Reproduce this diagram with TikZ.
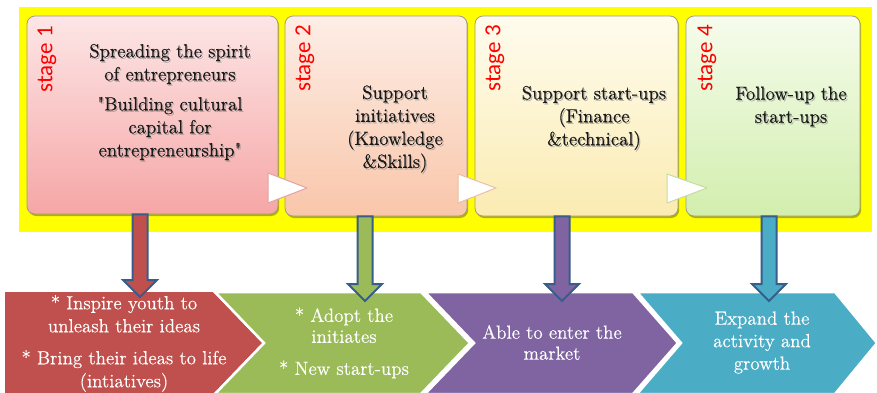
\documentclass[tikz,border=0pt]{standalone}
\usepackage{fontspec}
\setmainfont{lmroman12-regular}[Extension=.otf, Ligatures=TeXOff, FakeBold=0.35]
\newfontfamily\stagefont{Carlito}
\usetikzlibrary{calc,shadows}
\definecolor{ybg}{HTML}{FFFF00}
\definecolor{boxline}{HTML}{A39B84}
\definecolor{b1t}{HTML}{FDE6E6}
\definecolor{b1b}{HTML}{F6A6A6}
\definecolor{b2t}{HTML}{FDEEE6}
\definecolor{b2b}{HTML}{F9C6AA}
\definecolor{b3t}{HTML}{FEFCEE}
\definecolor{b3b}{HTML}{FBEBB2}
\definecolor{b4t}{HTML}{F6FCEC}
\definecolor{b4b}{HTML}{D2EEAE}
\definecolor{cred}{HTML}{C0504D}
\definecolor{cgreen}{HTML}{9BBB59}
\definecolor{cpurple}{HTML}{8064A2}
\definecolor{ccyan}{HTML}{4BACC6}
\definecolor{arrowblue}{HTML}{385D8A}
\definecolor{tri1}{HTML}{E3A3A3}
\definecolor{tri2}{HTML}{E9C0A4}
\definecolor{tri3}{HTML}{C6DCA2}
\newcommand\shtxt[4]{%
  \node[#3, text=black!50, opacity=0.45] (#1sh) at ($(#2)+(1.3,1.5)$) {#4};
  \node[#3] (#1) at (#2) {#4};}
\newcommand\blockdown[3]{%
  \draw[blk, fill=#3] ($(#1.south -| #2)+(-7.5,0)$) -- ($(#2)+(-7.5,-17)$) -- ($(#2)+(-17,-17)$) -- (#2)
    -- ($(#2)+(17,-17)$) -- ($(#2)+(7.5,-17)$) -- ($(#1.south -| #2)+(7.5,0)$) -- cycle;}
\begin{document}
\begin{tikzpicture}[x=1pt,y=-1pt,
  box/.style={draw=boxline, line width=0.8pt, rounded corners=8pt, inner sep=0pt,
    drop shadow={shadow xshift=1.2pt, shadow yshift=-2pt, opacity=0.3, fill=black}},
  boxtext/.style={font=\rmfamily\fontsize{19}{23}\selectfont, align=center, text=black!90, inner sep=0pt},
  stagelbl/.style={font=\stagefont\fontsize{23}{23}\selectfont, text=red, rotate=90, anchor=east, inner sep=0pt},
  chev/.style={draw=white, line width=2.5pt, line join=miter},
  chtext/.style={font=\rmfamily\fontsize{19}{23}\selectfont, align=center, text=white, inner sep=0pt},
  blk/.style={draw=arrowblue, line width=2pt, line join=miter},
  tri/.style={fill=white, line width=1pt, line join=round}]

\useasboundingbox (0,0) rectangle (877,392);
\clip (0,0) rectangle (877,392);
\fill[white] (0,0) rectangle (877,392);
\fill[ybg] (19,7) rectangle (872,232);

% stage boxes
\node[box, top color=b1t, bottom color=b1b, minimum width=251pt, minimum height=198pt] (b1) at (152.5,115) {};
\node[box, top color=b2t, bottom color=b2b, minimum width=182pt, minimum height=200pt] (b2) at (376,116) {};
\node[box, top color=b3t, bottom color=b3b, minimum width=203pt, minimum height=200pt] (b3) at (576.5,116) {};
\node[box, top color=b4t, bottom color=b4b, minimum width=174pt, minimum height=200pt] (b4) at (773,116) {};

% small triangles between boxes
\draw[tri, draw=tri1] (268,173) -- (307,188) -- (268,203) -- cycle;
\draw[tri, draw=tri2] (458,174) -- (496,188) -- (458,203) -- cycle;
\draw[tri, draw=tri3] (667,174) -- (707,188) -- (667,203) -- cycle;

% stage labels
\node[stagelbl] (s1) at (47,26) {stage 1};
\node[stagelbl] (s2) at (305,25) {stage 2};
\node[stagelbl] (s3) at (495,25) {stage 3};
\node[stagelbl] (s4) at (707,25) {stage 4};

% box texts
\shtxt{t1}{170,102}{boxtext}{Spreading the spirit\\ of entrepreneurs\\[7pt] "Building cultural\\ capital for\\ entrepreneurship"}
\shtxt{t2}{395,129}{boxtext}{Support\\ initiatives\\ (Knowledge\\ \&Skills)}
\shtxt{t3}{594,118}{boxtext}{Support start-ups\\ (Finance\\ \&technical)}
\shtxt{t4}{791,106.5}{boxtext}{Follow-up the\\ start-ups}

% chevrons
\fill[cred] (5,292) -- (213,292) -- (262,343) -- (213,394) -- (5,394) -- cycle;
\draw[chev, fill=cgreen] (215,292) -- (421,292) -- (470,343) -- (421,394) -- (215,394) -- (264,343) -- cycle;
\draw[chev, fill=cpurple] (425,292) -- (633,292) -- (678,343) -- (633,394) -- (425,394) -- (474,343) -- cycle;
\draw[chev, fill=ccyan] (637,292) -- (835,292) -- (877,343) -- (835,394) -- (637,394) -- (681,343) -- cycle;

% chevron texts
\node[chtext] (c1) at (124,343.5) {* Inspire youth to\\ unleash their ideas\\[9pt] * Bring their ideas to life\\ (intiatives)};
\node[chtext, font=\rmfamily\fontsize{19}{21}\selectfont] (c2) at (344,343) {* Adopt the\\ initiates\\[11pt] * New start-ups};
\node[chtext, font=\rmfamily\fontsize{19}{21}\selectfont] (c3) at (552,342.5) {Able to enter the\\ market};
\node[chtext, font=\rmfamily\fontsize{19}{22.5}\selectfont] (c4) at (762,342.5) {Expand the\\ activity and\\ growth};

% down arrows
\coordinate (e1) at (140,297);
\coordinate (e2) at (365,301);
\coordinate (e3) at (562,301);
\coordinate (e4) at (769,301);
\blockdown{b1}{e1}{cred}
\blockdown{b2}{e2}{cgreen}
\blockdown{b3}{e3}{cpurple}
\blockdown{b4}{e4}{ccyan}
\end{tikzpicture}
\end{document}
